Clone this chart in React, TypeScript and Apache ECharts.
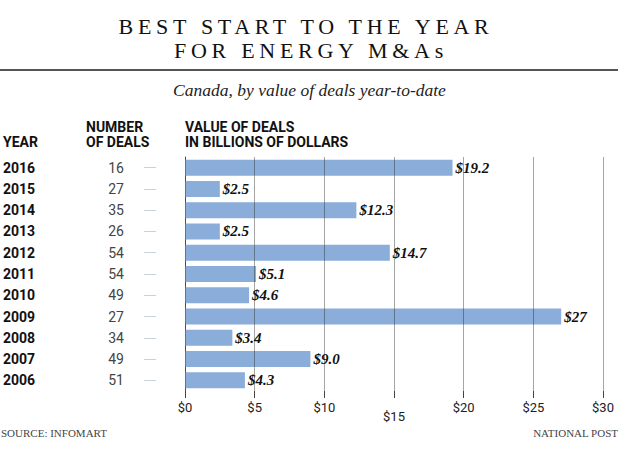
import React, { useEffect, useRef } from "react";
import * as echarts from "echarts";

const years = ["2016", "2015", "2014", "2013", "2012", "2011", "2010", "2009", "2008", "2007", "2006"];
const deals = [16, 27, 35, 26, 54, 54, 49, 27, 34, 49, 51];
const values = [19.2, 2.5, 12.3, 2.5, 14.7, 5.1, 4.6, 27, 3.4, 9.0, 4.3];
const valueLabels = ["$19.2", "$2.5", "$12.3", "$2.5", "$14.7", "$5.1", "$4.6", "$27", "$3.4", "$9.0", "$4.3"];
const titleLines = ["BEST START TO THE YEAR", "FOR ENERGY M&As"];
const subtitle = "Canada, by value of deals year-to-date";

const SANS = "Roboto, 'DejaVu Sans Condensed', sans-serif";
const SERIF = "'Liberation Serif', 'DejaVu Serif', serif";

export default function App() {
  const ref = useRef<HTMLDivElement>(null);
  useEffect(() => {
    if (!ref.current) return;
    const chart = echarts.init(ref.current, undefined, { renderer: "svg" });
    const applySpacing = () => {
      const texts = ref.current?.querySelectorAll("text") || [];
      texts.forEach((t: any) => {
        if (titleLines.includes(t.textContent)) {
          t.style.letterSpacing = "4.7px";
        }
      });
    };
    chart.setOption({
      animation: false,
      backgroundColor: "#ffffff",
      grid: { left: 185, right: 17, top: 157, bottom: 67, containLabel: false, outerBoundsMode: "none" },
      xAxis: {
        type: "value",
        min: 0,
        max: 30,
        interval: 5,
        z: 10,
        axisLine: { show: false },
        axisTick: { show: true, length: 7, lineStyle: { color: "#444", width: 1 } },
        splitLine: { show: true, lineStyle: { color: "rgba(40,40,40,0.42)", width: 1 } },
        axisLabel: {
          margin: 10,
          fontFamily: SANS,
          fontSize: 13,
          color: "#222",
          formatter: (v: number) => (v === 15 ? "{low|$15}" : "$" + v),
          rich: {
            low: { fontFamily: SANS, fontSize: 13, color: "#222", padding: [9, 0, 0, 0] },
          },
        },
      },
      yAxis: [
        {
          type: "category",
          position: "left",
          data: years,
          inverse: true,
          axisLine: { show: true, lineStyle: { color: "#666", width: 1 } },
          axisTick: { show: false },
          axisLabel: {
            interval: 0,
            align: "left",
            margin: 182,
            fontFamily: SANS,
            fontSize: 14,
            fontWeight: "bold",
            color: "#111",
          },
        },
        {
          type: "category",
          position: "left",
          data: years,
          inverse: true,
          axisLine: { show: false },
          axisTick: { show: false },
          axisLabel: {
            interval: 0,
            margin: 61,
            fontFamily: SANS,
            fontSize: 14,
            color: "#444",
            formatter: (_v: string, i: number) => String(deals[i]),
          },
        },
        {
          type: "category",
          position: "left",
          data: years,
          inverse: true,
          offset: 29,
          axisLine: { show: false },
          axisTick: { show: true, interval: 0, alignWithLabel: true, length: 12, lineStyle: { color: "#c7d1df", width: 1 } },
          axisLabel: { show: false },
        },
      ],
      series: [
        {
          type: "bar",
          yAxisIndex: 0,
          data: values,
          barWidth: 16,
          itemStyle: { color: "#8badda" },
          label: {
            show: true,
            position: "right",
            distance: 3,
            fontFamily: SERIF,
            fontStyle: "italic",
            fontWeight: "bold",
            fontSize: 15,
            color: "#111",
            formatter: (p: any) => valueLabels[p.dataIndex],
          },
        },
      ],
      graphic: [
        {
          type: "text",
          x: 306,
          y: 26.5,
          style: { text: titleLines[0], fontFamily: SERIF, fontSize: 22, fill: "#111", align: "center", verticalAlign: "middle" },
        },
        {
          type: "text",
          x: 311,
          y: 50.5,
          style: { text: titleLines[1], fontFamily: SERIF, fontSize: 22, fill: "#111", align: "center", verticalAlign: "middle" },
        },
        {
          type: "line",
          shape: { x1: 0, y1: 70, x2: 618, y2: 70 },
          style: { stroke: "#555", lineWidth: 2 },
        },
        {
          type: "text",
          x: 309.5,
          y: 89.5,
          style: { text: subtitle, fontFamily: SERIF, fontStyle: "italic", fontSize: 17.5, fill: "#222", align: "center", verticalAlign: "middle" },
        },
        { type: "text", x: 3, y: 141.5, style: { text: "YEAR", fontFamily: SANS, fontSize: 14, fontWeight: "bold", fill: "#111", verticalAlign: "middle" } },
        { type: "text", x: 86, y: 127, style: { text: "NUMBER", fontFamily: SANS, fontSize: 14, fontWeight: "bold", fill: "#111", verticalAlign: "middle" } },
        { type: "text", x: 86, y: 141.5, style: { text: "OF DEALS", fontFamily: SANS, fontSize: 14, fontWeight: "bold", fill: "#111", verticalAlign: "middle" } },
        { type: "text", x: 185, y: 127, style: { text: "VALUE OF DEALS", fontFamily: SANS, fontSize: 14, fontWeight: "bold", fill: "#111", verticalAlign: "middle" } },
        { type: "text", x: 185, y: 141.5, style: { text: "IN BILLIONS OF DOLLARS", fontFamily: SANS, fontSize: 14, fontWeight: "bold", fill: "#111", verticalAlign: "middle" } },
        { type: "text", x: 1, y: 433, style: { text: "SOURCE: INFOMART", fontFamily: SERIF, fontSize: 11, fill: "#444", verticalAlign: "middle" } },
        { type: "text", x: 618, y: 433, style: { text: "NATIONAL POST", fontFamily: SERIF, fontSize: 11, fill: "#444", align: "right", verticalAlign: "middle" } },
      ],
    });
    applySpacing();
    chart.on("finished", applySpacing);
    return () => {
      chart.dispose();
    };
  }, []);
  return <div ref={ref} style={{ position: "fixed", left: 0, top: 0, width: 620, height: 458 }} />;
}
